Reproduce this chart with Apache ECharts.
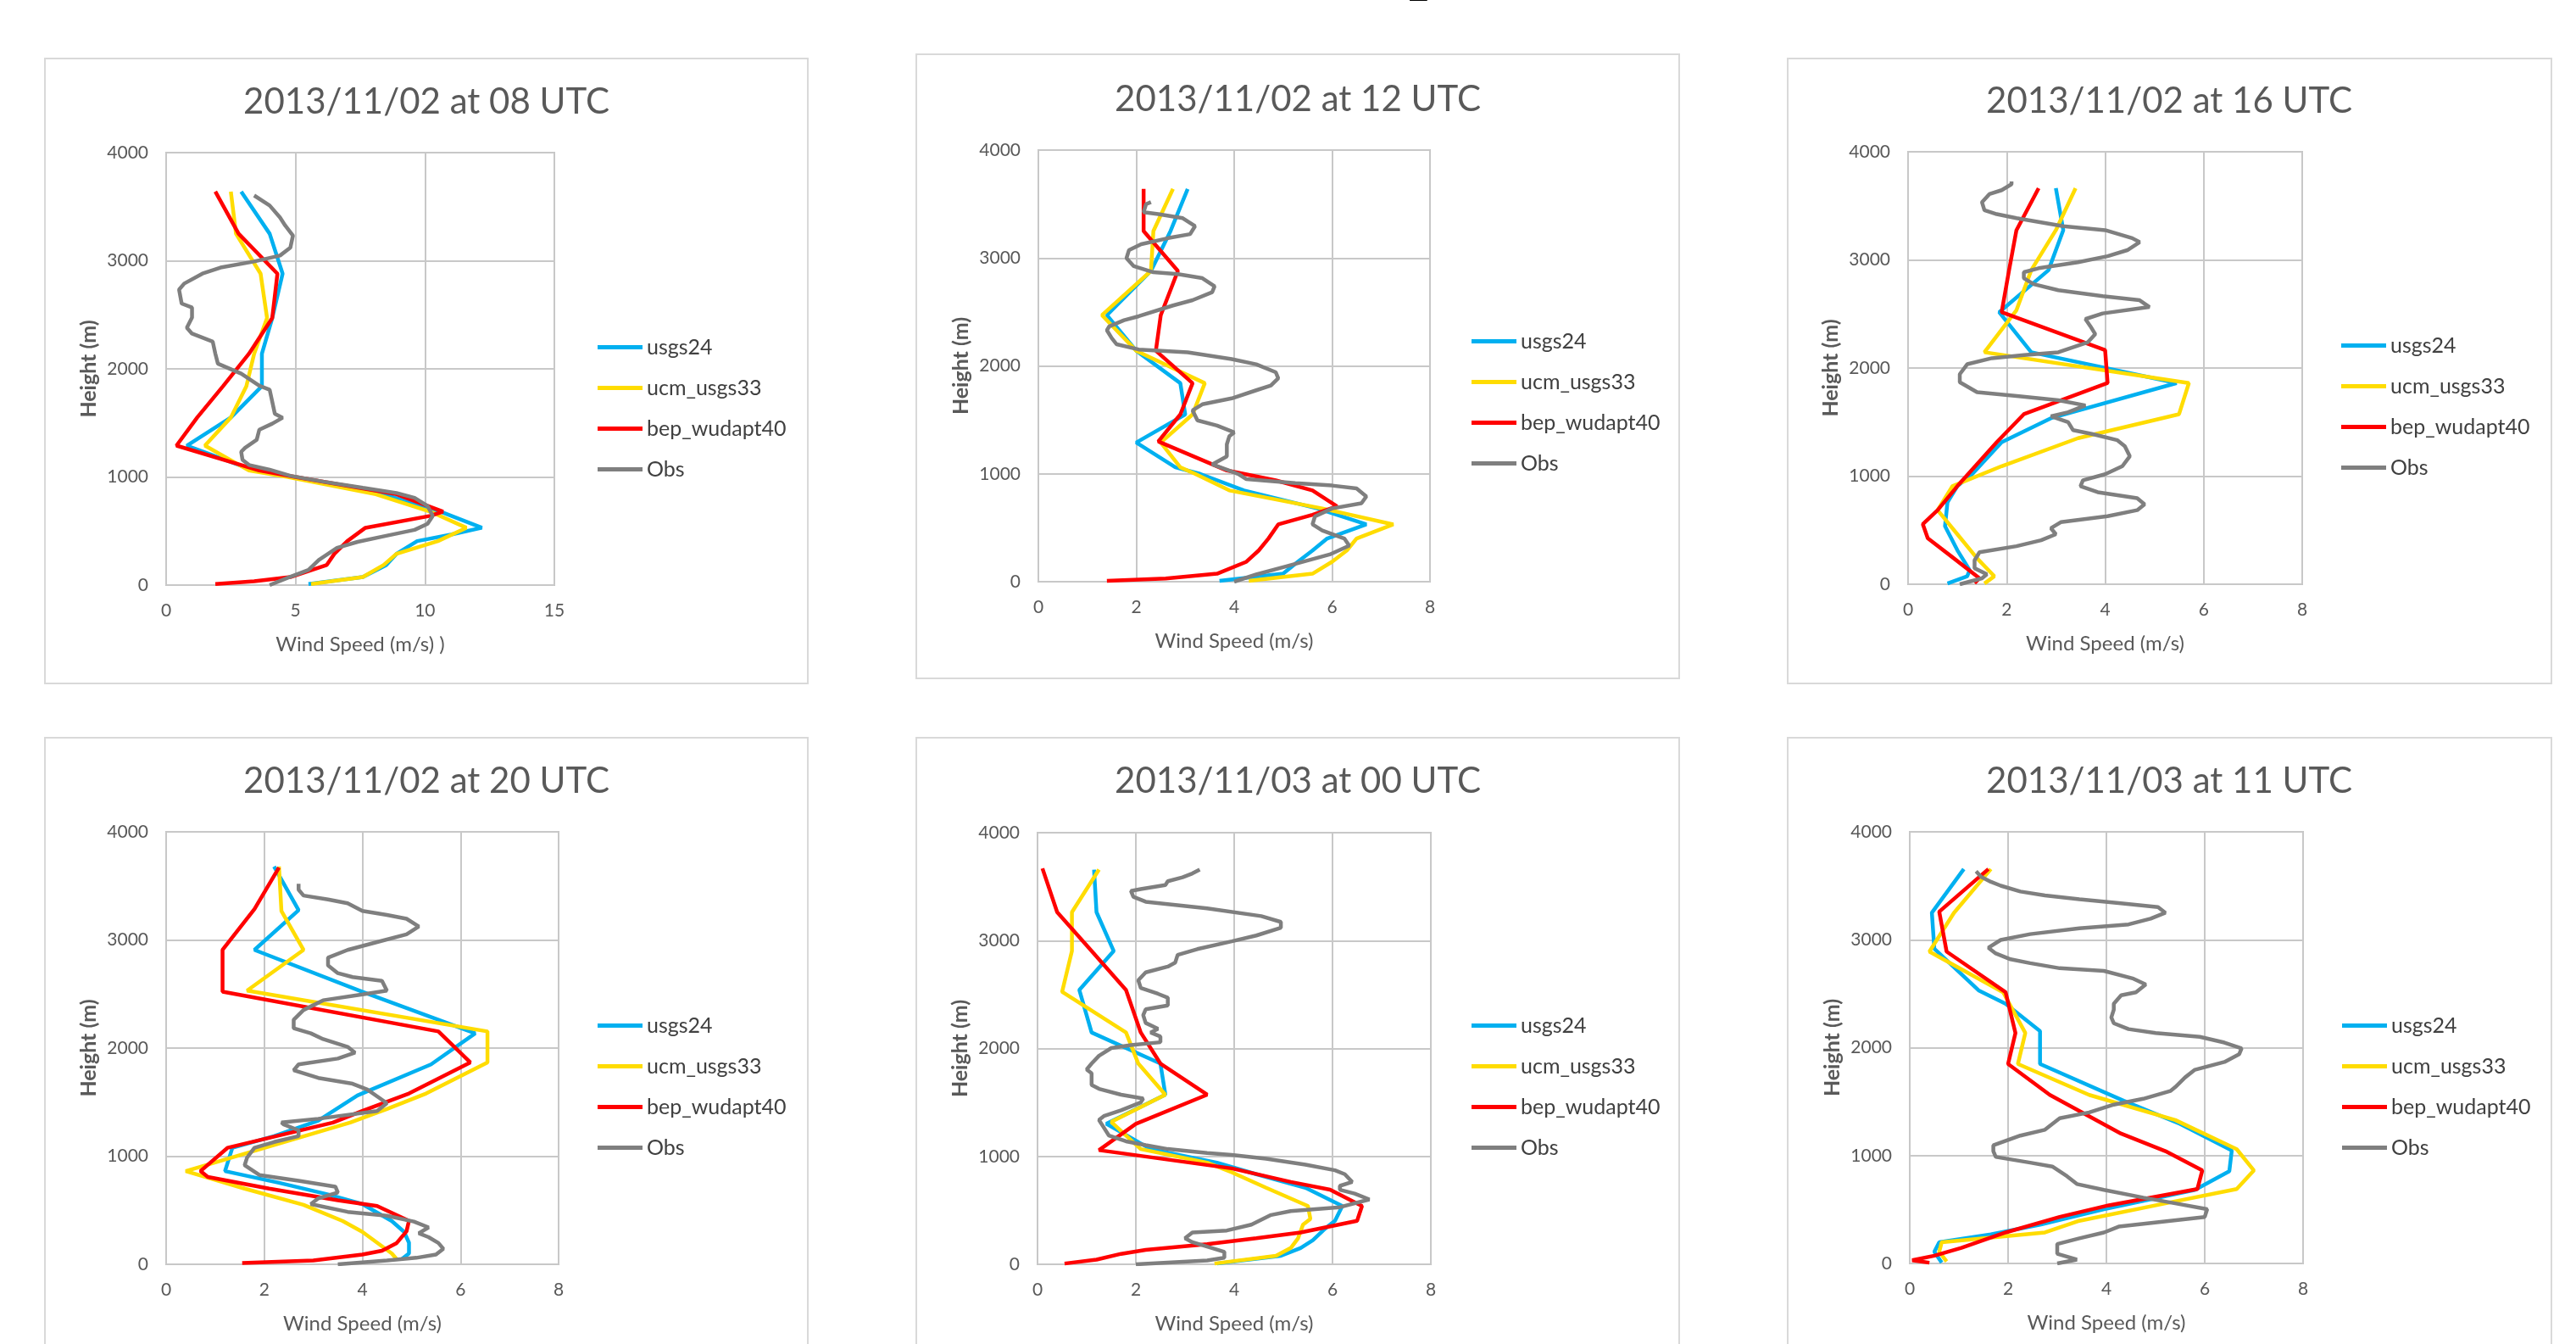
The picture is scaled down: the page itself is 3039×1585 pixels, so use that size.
<!DOCTYPE html>
<html><head><meta charset="utf-8">
<script src="https://cdn.jsdelivr.net/npm/echarts@6/dist/echarts.min.js"></script>
<style>html,body{margin:0;padding:0;background:#fff}#c{width:3039px;height:1585px}</style>
</head><body><div id="c"></div><script>
// ---------- DATA ----------
const panelTitles = ['2013/11/02 at 08 UTC','2013/11/02 at 12 UTC','2013/11/02 at 16 UTC','2013/11/02 at 20 UTC','2013/11/03 at 00 UTC','2013/11/03 at 11 UTC'];
const seriesNames = ['usgs24','ucm_usgs33','bep_wudapt40','Obs'];
const xAxisTitles = ['Wind Speed (m/s) )','Wind Speed (m/s)','Wind Speed (m/s)','Wind Speed (m/s)','Wind Speed (m/s)','Wind Speed (m/s)'];
const yAxisTitle = 'Height (m)';
const xMax = [15,8,8,8,8,8];
const xStep = [5,2,2,2,2,2];
const yMax = 4000, yStep = 1000;

// pairs: [wind speed (m/s), height (m)]
const p1_usgs24 = [[5.5,10],[7.6,74],[8.5,185],[8.9,289],[9.7,407],[11.0,467],[12.2,530],[10.6,680],[8.4,840],[4.9,1000],[3.4,1060],[0.8,1290],[2.5,1550],[3.7,1840],[3.7,2140],[4.1,2470],[4.5,2880],[4.0,3250],[2.9,3640]];
const p1_ucm = [[5.6,10],[7.6,74],[8.4,185],[8.9,289],[10.5,407],[11.6,530],[10.2,680],[8.1,840],[4.7,1000],[3.2,1060],[1.5,1290],[2.5,1550],[3.1,1840],[3.4,2140],[3.9,2470],[3.65,2880],[2.7,3250],[2.5,3640]];
const p1_bep = [[1.9,10],[3.4,35],[4.8,74],[6.2,185],[6.5,289],[7.0,407],[7.7,530],[10.2,640],[10.7,680],[8.9,840],[5.0,1000],[3.6,1060],[0.4,1290],[1.2,1550],[2.2,1840],[3.2,2140],[4.1,2470],[4.3,2880],[2.8,3250],[1.9,3640]];
const p1_obs = [[4.0,0],[4.7,67],[5.5,140],[5.9,233],[6.6,344],[7.4,400],[8.5,456],[9.6,511],[10.1,567],[10.3,640],[10.1,733],[9.6,807],[8.9,852],[7.6,900],[6.1,956],[4.8,1011],[4.0,1067],[3.2,1111],[2.95,1159],[2.9,1233],[3.05,1270],[3.5,1344],[3.6,1437],[4.1,1493],[4.5,1548],[4.2,1585],[4.1,1696],[4.0,1807],[3.6,1844],[2.9,1956],[2.0,2048],[1.9,2141],[1.8,2252],[1.0,2326],[0.8,2381],[1.0,2474],[1.0,2567],[0.6,2604],[0.5,2733],[0.7,2789],[1.4,2881],[2.1,2937],[3.4,2993],[4.4,3048],[4.8,3122],[4.9,3233],[4.6,3326],[4.4,3400],[4.0,3511],[3.4,3604]];

const p2_usgs24 = [[3.7,7],[5.0,74],[5.3,185],[5.6,289],[5.9,400],[6.7,531],[5.7,679],[4.2,846],[3.3,1000],[2.8,1060],[2.0,1290],[3.0,1550],[2.9,1840],[2.0,2140],[1.4,2470],[2.3,2880],[2.7,3250],[3.05,3640]];
const p2_ucm = [[4.3,7],[5.6,74],[6.0,185],[6.3,289],[6.5,400],[7.25,531],[5.8,679],[3.9,846],[3.2,1000],[2.9,1060],[2.5,1290],[3.15,1550],[3.4,1840],[2.0,2140],[1.3,2470],[2.3,2880],[2.35,3250],[2.75,3640]];
const p2_bep = [[1.4,7],[2.6,30],[3.65,74],[4.25,185],[4.5,289],[4.7,400],[4.9,531],[5.6,620],[6.1,698],[5.6,846],[4.85,939],[3.85,1031],[2.45,1300],[2.9,1550],[3.15,1840],[2.4,2140],[2.5,2470],[2.85,2880],[2.15,3250],[2.15,3640]];
const p2_obs = [[4.0,0],[4.45,67],[5.05,141],[5.95,252],[6.35,334],[6.25,400],[5.8,475],[5.6,531],[5.65,605],[6.0,679],[6.6,727],[6.7,790],[6.5,864],[6.0,891],[5.25,913],[4.25,950],[4.1,994],[3.85,1039],[3.55,1087],[3.85,1161],[3.85,1273],[3.9,1347],[4.0,1384],[3.65,1447],[3.25,1495],[3.15,1588],[3.35,1644],[3.95,1699],[4.45,1774],[4.75,1818],[4.9,1885],[4.85,1941],[4.45,2015],[3.95,2063],[3.05,2126],[2.05,2152],[1.6,2200],[1.5,2256],[1.4,2330],[1.45,2367],[1.75,2423],[2.05,2460],[2.75,2560],[3.15,2609],[3.55,2683],[3.6,2738],[3.35,2813],[2.85,2850],[2.35,2868],[1.95,2924],[1.8,2998],[1.85,3072],[2.1,3128],[2.65,3184],[3.1,3221],[3.2,3295],[2.95,3369],[2.45,3406],[2.15,3425],[2.2,3499],[2.3,3518]];

const p3_usgs24 = [[0.8,7],[1.2,74],[1.25,130],[1.0,315],[0.75,537],[0.8,759],[1.0,907],[1.3,1018],[1.9,1314],[2.9,1536],[5.45,1861],[2.5,2146],[1.85,2516],[2.85,2905],[3.15,3275],[3.0,3663]];
const p3_ucm = [[1.55,7],[1.75,74],[1.4,240],[1.0,463],[0.6,685],[0.9,907],[1.9,1092],[3.45,1351],[5.5,1573],[5.7,1861],[1.55,2146],[2.2,2535],[2.5,2905],[3.0,3275],[3.4,3663]];
const p3_bep = [[1.35,10],[1.45,55],[0.9,250],[0.4,426],[0.3,555],[0.6,685],[1.0,907],[1.8,1314],[2.35,1573],[4.05,1861],[4.0,2165],[1.9,2516],[2.05,2905],[2.2,3275],[2.65,3663]];
const p3_obs = [[1.05,0],[1.5,55],[1.6,92],[1.35,148],[1.35,222],[1.45,296],[2.2,352],[2.7,407],[3.0,463],[2.9,518],[3.1,574],[4.05,629],[4.65,685],[4.8,740],[4.65,796],[3.85,851],[3.5,907],[3.55,962],[4.0,1018],[4.35,1092],[4.5,1184],[4.4,1277],[4.25,1332],[3.75,1388],[3.35,1425],[3.25,1499],[2.9,1554],[3.25,1591],[3.6,1654],[3.05,1702],[2.25,1739],[1.4,1776],[1.05,1869],[1.05,1943],[1.2,2035],[1.7,2091],[2.35,2120],[3.05,2146],[3.65,2239],[3.8,2313],[3.7,2387],[3.6,2453],[3.95,2505],[4.9,2564],[4.7,2627],[3.95,2664],[3.05,2720],[2.55,2775],[2.35,2831],[2.35,2886],[2.65,2923],[3.45,2979],[4.05,3034],[4.45,3090],[4.7,3164],[4.55,3201],[4.0,3275],[3.15,3312],[2.2,3386],[1.8,3423],[1.55,3460],[1.5,3534],[1.65,3608],[1.9,3645],[2.1,3700],[2.1,3726]];

const p4_usgs24 = [[4.8,47],[4.95,100],[4.95,200],[4.85,300],[4.6,400],[4.0,557],[3.3,646],[2.3,754],[1.2,862],[1.35,1077],[2.2,1185],[3.1,1329],[3.9,1562],[5.4,1849],[6.3,2136],[4.0,2520],[1.8,2908],[2.7,3275],[2.2,3680]];
const p4_ucm = [[4.7,47],[4.6,100],[4.3,200],[4.0,300],[3.6,400],[2.8,550],[1.6,700],[0.4,862],[3.75,1311],[4.5,1436],[5.3,1580],[6.55,1867],[6.55,2154],[1.65,2531],[2.8,2908],[2.35,3267],[2.3,3680]];
const p4_bep = [[1.55,11],[3.0,36],[4.0,90],[4.4,126],[4.7,197],[4.9,305],[4.95,402],[4.3,539],[3.5,592],[2.1,700],[0.85,808],[0.7,862],[1.25,1077],[3.4,1311],[4.0,1418],[4.95,1580],[6.2,1867],[5.55,2154],[1.15,2521],[1.15,2908],[1.8,3286],[2.3,3670]];
const p4_obs = [[3.5,0],[4.5,36],[5.1,60],[5.5,90],[5.65,144],[5.55,197],[5.35,251],[5.15,287],[5.35,341],[5.05,395],[4.5,449],[3.7,485],[2.95,557],[3.1,610],[3.5,664],[3.45,718],[2.7,772],[1.9,826],[1.6,916],[1.65,987],[1.8,1077],[2.2,1131],[2.7,1185],[2.7,1239],[2.4,1293],[2.35,1311],[3.1,1346],[4.3,1418],[4.5,1490],[4.1,1616],[3.8,1670],[3.1,1724],[2.6,1795],[2.7,1849],[3.5,1903],[3.85,1957],[3.7,2011],[3.2,2083],[2.95,2136],[2.6,2183],[2.6,2262],[2.8,2352],[3.2,2442],[4.0,2496],[4.5,2531],[4.4,2621],[3.8,2657],[3.5,2693],[3.3,2765],[3.3,2837],[3.7,2908],[4.3,2980],[4.9,3052],[5.15,3124],[4.9,3196],[4.5,3232],[4.0,3268],[3.7,3339],[3.3,3375],[2.8,3411],[2.7,3465],[2.7,3519]];

const p5_usgs24 = [[3.65,7],[4.95,79],[5.35,151],[5.6,223],[5.85,331],[6.05,403],[6.2,540],[5.45,709],[4.45,835],[3.65,942],[2.3,1068],[1.4,1302],[2.6,1572],[2.5,1860],[1.1,2148],[0.85,2543],[1.55,2903],[1.2,3263],[1.15,3658]];
const p5_ucm = [[3.6,7],[4.85,79],[5.15,151],[5.3,241],[5.4,367],[5.55,421],[5.5,540],[4.65,709],[3.95,853],[3.45,942],[2.1,1068],[1.5,1320],[2.6,1572],[2.05,1860],[1.8,2148],[0.5,2525],[0.7,2903],[0.7,3263],[1.25,3658]];
const p5_bep = [[0.55,7],[1.2,43],[1.7,97],[2.2,133],[3.45,187],[4.45,241],[5.35,295],[6.5,403],[6.6,540],[5.95,691],[5.15,763],[3.95,889],[1.25,1058],[2.0,1302],[3.45,1572],[2.5,1860],[2.1,2148],[1.8,2543],[1.1,2903],[0.4,3263],[0.1,3669]];
const p5_obs = [[2.0,0],[3.45,36],[3.8,61],[3.8,115],[3.55,151],[3.15,205],[3.0,241],[3.15,295],[3.85,313],[4.35,367],[4.75,457],[5.15,493],[6.15,529],[6.75,601],[6.45,655],[6.15,691],[6.15,727],[6.4,763],[6.25,835],[6.05,871],[5.45,924],[4.65,978],[3.95,1014],[3.45,1032],[2.65,1068],[2.2,1104],[1.8,1140],[1.45,1194],[1.35,1266],[1.25,1338],[1.35,1374],[1.7,1428],[2.1,1500],[2.15,1536],[1.7,1572],[1.25,1626],[1.1,1662],[1.1,1770],[1.0,1806],[1.1,1860],[1.25,1932],[1.5,2004],[1.9,2032],[2.5,2058],[2.5,2111],[2.3,2148],[2.45,2183],[2.2,2237],[2.15,2309],[2.2,2363],[2.65,2399],[2.65,2471],[2.45,2507],[2.1,2561],[2.05,2633],[2.2,2705],[2.65,2759],[2.8,2795],[2.85,2867],[3.25,2921],[3.95,2993],[4.45,3047],[4.95,3119],[4.95,3173],[4.55,3227],[3.45,3299],[2.2,3360],[1.95,3406],[1.9,3460],[2.1,3478],[2.6,3514],[2.65,3550],[2.95,3586],[3.15,3622],[3.3,3658]];

const p6_usgs24 = [[0.65,7],[0.5,108],[0.6,197],[1.65,269],[2.65,359],[3.95,503],[5.8,682],[6.5,855],[6.55,1048],[5.5,1293],[4.35,1508],[2.65,1849],[2.65,2154],[1.95,2406],[1.4,2531],[0.5,2916],[0.45,3250],[1.1,3655]];
const p6_ucm = [[0.75,18],[0.6,108],[0.65,197],[2.75,287],[3.45,395],[5.2,557],[6.65,689],[7.0,862],[6.65,1059],[5.4,1329],[3.65,1562],[2.2,1849],[2.35,2136],[1.9,2513],[0.4,2890],[0.9,3250],[1.65,3655]];
const p6_bep = [[0.4,7],[0.05,29],[0.5,72],[1.05,144],[1.95,287],[3.05,431],[4.05,539],[5.85,689],[5.95,862],[5.2,1041],[4.3,1203],[3.65,1364],[2.85,1562],[2.0,1849],[2.15,2136],[1.95,2513],[0.75,2890],[0.6,3260],[1.6,3655]];
const p6_obs = [[3.0,0],[3.4,36],[3.0,90],[3.0,180],[3.45,233],[3.95,287],[4.25,341],[4.95,377],[6.0,431],[6.05,503],[5.4,557],[4.75,610],[3.95,682],[3.4,736],[3.2,808],[2.9,898],[2.45,934],[1.75,987],[1.7,1041],[1.7,1095],[2.25,1185],[2.75,1239],[2.9,1293],[3.05,1346],[3.65,1400],[4.15,1472],[4.75,1526],[5.3,1598],[5.4,1634],[5.6,1724],[5.8,1795],[6.4,1867],[6.7,1939],[6.75,1993],[6.4,2047],[5.9,2100],[5.0,2136],[4.45,2172],[4.15,2226],[4.1,2280],[4.15,2352],[4.15,2406],[4.3,2485],[4.6,2513],[4.8,2585],[4.55,2639],[3.95,2711],[3.05,2736],[2.45,2783],[2.05,2819],[1.75,2873],[1.6,2926],[1.85,2998],[2.45,3052],[3.45,3106],[4.45,3142],[4.9,3196],[5.2,3250],[5.05,3303],[4.25,3339],[3.45,3375],[2.75,3411],[2.25,3447],[1.85,3501],[1.65,3537],[1.45,3584],[1.35,3634]];

const panelData = [
  [p1_usgs24, p1_ucm, p1_bep, p1_obs],
  [p2_usgs24, p2_ucm, p2_bep, p2_obs],
  [p3_usgs24, p3_ucm, p3_bep, p3_obs],
  [p4_usgs24, p4_ucm, p4_bep, p4_obs],
  [p5_usgs24, p5_ucm, p5_bep, p5_obs],
  [p6_usgs24, p6_ucm, p6_bep, p6_obs]
];

// ---------- LAYOUT / STYLE ----------
const colors = ['#00b0f0', '#ffdc00', '#ff0000', '#7f7f7f'];
const FONT = 'Lato';
const layout = [
  {g:[196,180,458,510], t:[503,120], l:[705,397], f:[53,69,900,737]},
  {g:[1225,177,462,509], t:[1531,117], l:[1736,390], f:[1081,64,900,736]},
  {g:[2251,179,465,510], t:[2559,119], l:[2762,395], f:[2109,69,901,737]},
  {g:[196,981,463,510], t:[503,921], l:[705,1197], f:[53,870,900,760]},
  {g:[1224,982,464,509], t:[1531,921], l:[1736,1197], f:[1081,870,900,760]},
  {g:[2253,981,464,509], t:[2559,921], l:[2763,1197], f:[2109,870,901,760]}
];

const grid = [], xAxis = [], yAxis = [], series = [], title = [], legend = [], graphic = [];
layout.forEach((L, i) => {
  graphic.push({type:'rect', silent:true, z:-10, shape:{x:L.f[0], y:L.f[1], width:L.f[2], height:L.f[3]}, style:{fill:'none', stroke:'#d9d9d9', lineWidth:2}});
  grid.push({left:L.g[0], top:L.g[1], width:L.g[2], height:L.g[3], show:true, borderColor:'#c3c3c3', borderWidth:2, containLabel:false, outerBoundsMode:'none'});
  title.push({text:panelTitles[i], left:L.t[0], top:L.t[1], textAlign:'center', textVerticalAlign:'middle', padding:0,
    textStyle:{fontFamily:FONT, fontSize:42, fontWeight:'normal', color:'#595959'}});
  xAxis.push({gridIndex:i, type:'value', min:0, max:xMax[i], interval:xStep[i],
    name:xAxisTitles[i], nameLocation:'middle', nameGap:58,
    nameTextStyle:{fontFamily:FONT, fontSize:24, color:'#595959'},
    axisLine:{show:false}, axisTick:{show:false},
    axisLabel:{fontFamily:FONT, fontSize:21, color:'#595959', margin:20, formatter: v => String(v)},
    splitLine:{show:true, lineStyle:{color:'#c8c8c8', width:2}}});
  yAxis.push({gridIndex:i, type:'value', min:0, max:yMax, interval:yStep,
    name:yAxisTitle, nameLocation:'middle', nameGap:79, nameRotate:90,
    nameTextStyle:{fontFamily:FONT, fontSize:25, fontWeight:'bold', color:'#595959'},
    axisLine:{show:false}, axisTick:{show:false},
    axisLabel:{fontFamily:FONT, fontSize:21, color:'#595959', margin:21, formatter: v => String(v)},
    splitLine:{show:true, lineStyle:{color:'#c8c8c8', width:2}}});
  legend.push({orient:'vertical', left:L.l[0], top:L.l[1], padding:0, itemWidth:53, itemHeight:5, itemGap:23,
    icon:'rect', selectedMode:false,
    textStyle:{fontFamily:FONT, fontSize:25, color:'#404040', lineHeight:25},
    data: seriesNames.map((n, j) => ({name:n, itemStyle:{color:colors[j], borderWidth:0}}))});
  seriesNames.forEach((n, j) => {
    series.push({type:'line', name:n, xAxisIndex:i, yAxisIndex:i, data:panelData[i][j],
      symbol:'none', showSymbol:false, smooth:false, z:2 + j,
      lineStyle:{color:colors[j], width:4.5}, itemStyle:{color:colors[j]}});
  });
});
// top title fragment (cropped in the reference)
graphic.push({type:'text', silent:true, x:1662, y:-37, style:{text:'p', font:'bold 80px "Liberation Serif"', fill:'#000', textAlign:'left', textVerticalAlign:'middle'}});

const chart = echarts.init(document.getElementById('c'), null, {renderer:'canvas'});
chart.setOption({
  animation:false, backgroundColor:'#ffffff',
  textStyle:{fontFamily:FONT},
  title, grid, xAxis, yAxis, legend, series, graphic
});
</script></body></html>
